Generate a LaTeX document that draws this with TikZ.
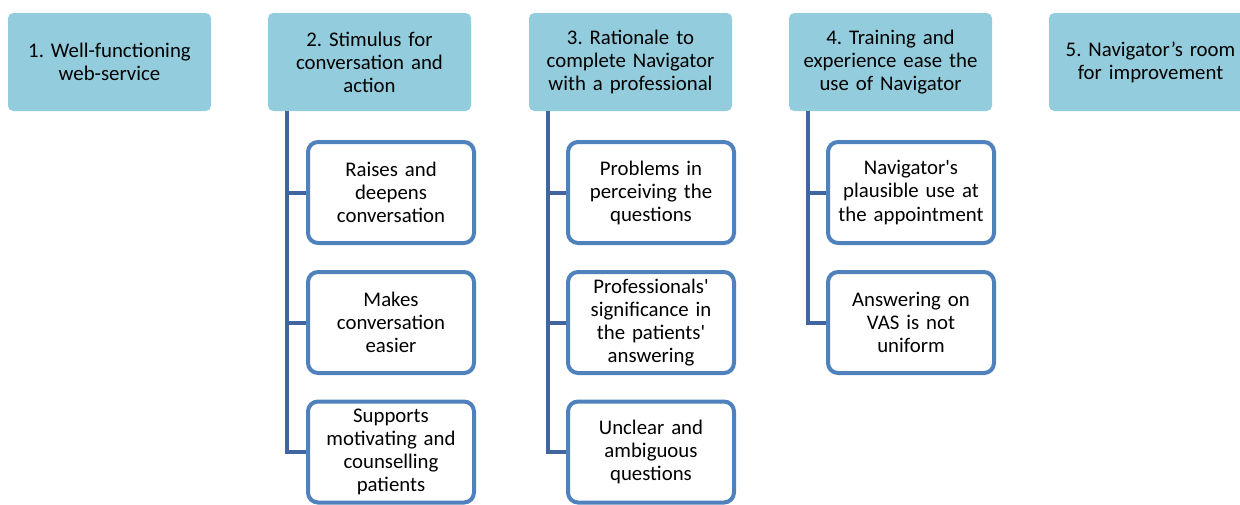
\documentclass[tikz,border=0pt]{standalone}
\usepackage{fontspec}
\setmainfont{Carlito}
\usepackage{xcolor}
\usetikzlibrary{positioning, calc}

\definecolor{themefill}{HTML}{93CDDD}
\definecolor{subline}{HTML}{4F81BD}
\definecolor{linkline}{HTML}{41659F}

\begin{document}
\frenchspacing
\begin{tikzpicture}[
		font=\fontsize{14.8pt}{16.4pt}\selectfont,
		theme/.style={fill=themefill, rounded corners=0.13cm, align=center,
			minimum width=5.075cm, minimum height=2.45cm, text width=4.9cm, inner sep=0pt},
		sub/.style={draw=subline, line width=0.1cm, fill=white, rounded corners=0.25cm,
			align=center, minimum width=4.15cm, minimum height=2.525cm, text width=4cm, inner sep=0pt},
		link/.style={draw=linkline, line width=0.1cm}
		]
		
		\useasboundingbox (0,0) rectangle (31,-12.6);
		
		% Main themes
		\node[theme] (T1) at (2.7375,-1.55) {1. Well-functioning\\web-service};
		\node[theme] (T2) at (9.2375,-1.55) {2. Stimulus for\\conversation and\\action};
		\node[theme] (T3) at (15.7625,-1.55) {3. Rationale to\\complete Navigator\\with a professional};
		\node[theme] (T4) at (22.2625,-1.55) {4. Training and\\experience ease the\\use of Navigator};
		\node[theme] (T5) at (28.7625,-1.55) {5. Navigator’s room\\for improvement};
		
		% Sub-themes of 2
		\node[sub] (S21) at (9.775,-4.8125) {Raises and\\deepens\\conversation};
		\node[sub] (S22) at (9.775,-8.0625) {Makes\\conversation\\easier};
		\node[sub] (S23) at (9.775,-11.3) {Supports\\motivating and\\counselling\\patients};
		
		% Sub-themes of 3
		\node[sub] (S31) at (16.275,-4.8125) {Problems in\\perceiving the\\questions};
		\node[sub] (S32) at (16.275,-8.0625) {Professionals\textquotesingle\\significance in\\the patients\textquotesingle\\answering};
		\node[sub] (S33) at (16.275,-11.3) {Unclear and\\ambiguous\\questions};
		
		% Sub-themes of 4
		\node[sub] (S41) at (22.775,-4.8125) {Navigator\textquotesingle s\\plausible use at\\the appointment};
		\node[sub] (S42) at (22.775,-8.0625) {Answering on\\VAS is not\\uniform};
		
		% Connectors
		\coordinate (R2) at ($(T2.south west)+(0.475,0)$);
		\coordinate (R3) at ($(T3.south west)+(0.475,0)$);
		\coordinate (R4) at ($(T4.south west)+(0.475,0)$);
		
		\draw[link] (R2) |- (S23.west);
		\draw[link] (R2) |- (S22.west);
		\draw[link] (R2) |- (S21.west);
		
		\draw[link] (R3) |- (S33.west);
		\draw[link] (R3) |- (S32.west);
		\draw[link] (R3) |- (S31.west);
		
		\draw[link] (R4) |- (S42.west);
		\draw[link] (R4) |- (S41.west);
		
	\end{tikzpicture}
\end{document}
